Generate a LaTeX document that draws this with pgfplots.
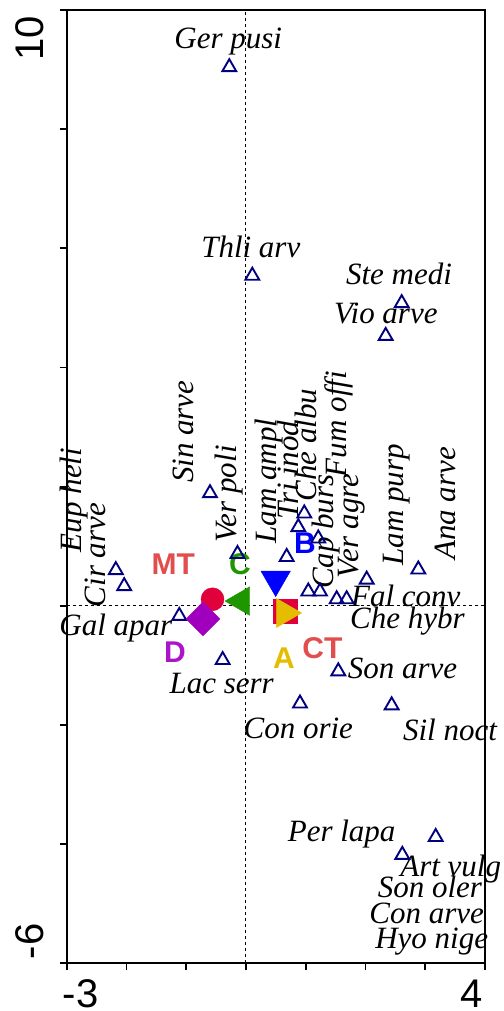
\documentclass[border=0pt]{standalone}
\usepackage{fontspec}
\usepackage{pgfplots}
\pgfplotsset{compat=1.18}
\newfontfamily\serifit{Liberation Serif}
\newfontfamily\arial{Liberation Sans}
\definecolor{navyc}{RGB}{0,0,128}
\definecolor{crim}{RGB}{224,0,60}
\definecolor{txtred}{RGB}{226,78,78}
\definecolor{purp}{RGB}{160,0,190}
\definecolor{purptxt}{RGB}{172,20,200}
\definecolor{grn}{RGB}{30,150,0}
\definecolor{blu}{RGB}{0,0,255}
\definecolor{yel}{RGB}{228,188,0}
\tikzset{
  spl/.style={font=\serifit\itshape\fontsize{31}{31}\selectfont, inner sep=0pt, anchor=base, text=black},
  spv/.style={spl, rotate=90},
  big/.style={font=\arial\bfseries\fontsize{30}{30}\selectfont, inner sep=0pt, anchor=center},
  tk/.style={font=\arial\fontsize{40}{40}\selectfont, inner sep=0pt, text=black}
}
\begin{document}
\begin{tikzpicture}
\begin{axis}[
  scale only axis, width=418.3pt, height=953.3pt,
  xmin=-3, xmax=4, ymin=-6, ymax=10,
  xtick={-3,-2,...,4}, ytick={-6,-4,...,10},
  xticklabels={}, yticklabels={},
  xtick pos=bottom, ytick pos=left,
  tick align=outside, major tick length=7pt,
  tick style={line width=1.8pt, black},
  axis line style={line width=2pt, black},
  clip=false,
]
\coordinate (BL) at (rel axis cs:0,0);
\coordinate (TR) at (rel axis cs:1,1);
% origin lines
\addplot[black, line width=1pt, dash pattern=on 3pt off 3pt] coordinates {(0,-6) (0,10)};
\addplot[black, line width=1pt, dash pattern=on 3pt off 3pt] coordinates {(-3,0) (4,0)};
% species
\addplot[only marks, color=navyc, mark=triangle, mark size=8pt, mark options={line width=1.9pt, fill=none}] coordinates {
(-0.279,9.04) (0.106,5.54) (2.606,5.08) (2.338,4.53) (-0.602,1.89) (-0.142,0.87)
(-2.178,0.60) (-2.038,0.33) (-1.116,-0.17) (0.681,0.82) (0.876,1.32) (0.976,1.55)
(1.210,1.13) (1.043,0.24) (1.239,0.24) (1.518,0.11) (1.685,0.11) (2.020,0.44)
(2.884,0.61) (-0.390,-0.91) (1.545,-1.10) (0.904,-1.64) (2.438,-1.67)
(3.175,-3.88) (2.616,-4.18)
};
% samples / groups
\addplot[only marks, color=crim, mark=*, mark size=11.5pt] coordinates {(-0.560,0.11)};
\addplot[only marks, color=purp, mark=square*, mark size=12pt, mark options={rotate=45}] coordinates {(-0.719,-0.22)};
\addplot[only marks, color=grn, mark=triangle*, mark size=16.5pt, mark options={rotate=90}] coordinates {(-0.075,0.08)};
\addplot[only marks, color=blu, mark=triangle*, mark size=17pt, mark options={rotate=180}] coordinates {(0.497,0.44)};
\addplot[only marks, color=crim, mark=square*, mark size=12pt] coordinates {(0.653,-0.09)};
\addplot[only marks, color=yel, mark=triangle*, mark size=16.8pt, mark options={rotate=-90}] coordinates {(0.651,-0.12)};
% horizontal species labels
\node[spl] at (axis cs:-0.296,9.357) {Ger pusi};
\node[spl] at (axis cs:0.081,5.849) {Thli arv};
\node[spl] at (axis cs:2.561,5.401) {Ste medi};
\node[spl] at (axis cs:2.340,4.742) {Vio arve};
\node[spl] at (axis cs:-2.178,-0.490) {Gal apar};
\node[spl] at (axis cs:2.674,-0.015) {Fal conv};
\node[spl] at (axis cs:2.703,-0.378) {Che hybr};
\node[spl] at (axis cs:-0.406,-1.469) {Lac serr};
\node[spl] at (axis cs:2.619,-1.217) {Son arve};
\node[spl] at (axis cs:0.876,-2.224) {Con orie};
\node[spl] at (axis cs:3.414,-2.253) {Sil noct};
\node[spl] at (axis cs:1.602,-3.959) {Per lapa};
\node[spl] at (axis cs:3.427,-4.547) {Art vulg};
\node[spl] at (axis cs:3.079,-4.893) {Son oler};
\node[spl] at (axis cs:3.024,-5.329) {Con arve};
\node[spl] at (axis cs:3.108,-5.749) {Hyo nige};
% vertical species labels
\node[spv] at (axis cs:-2.749,1.776) {Eup heli};
\node[spv] at (axis cs:-2.359,0.853) {Cir arve};
\node[spv] at (axis cs:-0.882,2.922) {Sin arve};
\node[spv] at (axis cs:-0.155,1.876) {Ver poli};
\node[spv] at (axis cs:0.514,2.095) {Lam ampl};
\node[spv] at (axis cs:0.876,2.279) {Tri inod};
\node[spv] at (axis cs:1.183,2.699) {Che albu};
\node[spv] at (axis cs:1.461,1.244) {Cap burs};
\node[spv] at (axis cs:1.685,3.05) {Fum offi};
\node[spv] at (axis cs:1.880,1.343) {Ver agre};
\node[spv] at (axis cs:2.633,1.692) {Lam purp};
\node[spv] at (axis cs:3.498,1.720) {Ana arve};
% group labels
\node[big, text=txtred] at (axis cs:-1.216,0.698) {MT};
\node[big, text=grn] at (axis cs:-0.100,0.702) {C};
\node[big, text=blu] at (axis cs:0.988,1.049) {B};
\node[big, text=purptxt] at (axis cs:-1.188,-0.770) {D};
\node[big, text=yel] at (axis cs:0.636,-0.881) {A};
\node[big, text=txtred] at (axis cs:1.280,-0.713) {CT};
% tick labels
\node[tk, anchor=base west] at ([xshift=-4pt,yshift=-44pt]axis cs:-3,-6) {-3};
\node[tk, anchor=base east] at ([xshift=-2pt,yshift=-44pt]axis cs:4,-6) {4};
\node[tk, rotate=90, anchor=base east] at ([xshift=-23.4pt,yshift=-6.3pt]axis cs:-3,10) {10};
\node[tk, rotate=90, anchor=base west] at ([xshift=-23.4pt,yshift=4pt]axis cs:-3,-6) {-6};
\end{axis}
\pgfresetboundingbox
\path[use as bounding box] ([xshift=-66.7pt,yshift=-47.7pt]BL) rectangle ([xshift=19pt,yshift=10pt]TR);
\end{tikzpicture}
\end{document}
